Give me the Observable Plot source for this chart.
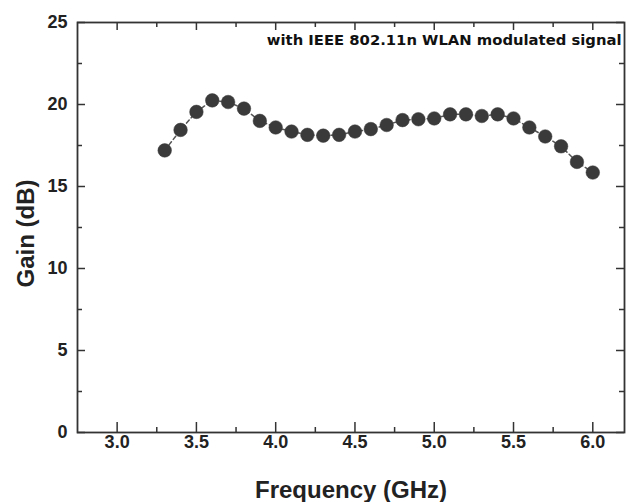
<!DOCTYPE html>
<html>
<head>
<meta charset="utf-8">
<script src="https://cdn.jsdelivr.net/npm/d3@7"></script>
<script src="https://cdn.jsdelivr.net/npm/@observablehq/plot@0.6"></script>
<style>
  body { margin: 0; background: #fff; }
  svg { display: block; }
</style>
</head>
<body>
<div id="chart"></div>
<script>
const freq = [3.3, 3.4, 3.5, 3.6, 3.7, 3.8, 3.9, 4.0, 4.1, 4.2, 4.3, 4.4, 4.5, 4.6,
              4.7, 4.8, 4.9, 5.0, 5.1, 5.2, 5.3, 5.4, 5.5, 5.6, 5.7, 5.8, 5.9, 6.0];
const gain = [17.2, 18.45, 19.55, 20.25, 20.15, 19.75, 19.0, 18.6, 18.35, 18.15, 18.1, 18.15, 18.35, 18.5,
              18.75, 19.05, 19.1, 19.15, 19.4, 19.4, 19.3, 19.4, 19.15, 18.6, 18.05, 17.45, 16.5, 15.85];
const xMajor = [3.0, 3.5, 4.0, 4.5, 5.0, 5.5, 6.0];
const xMinor = [3.25, 3.75, 4.25, 4.75, 5.25, 5.75];
const yMajor = [0, 5, 10, 15, 20, 25];
const yMinor = [2.5, 7.5, 12.5, 17.5, 22.5];
const xLabel = "Frequency (GHz)";
const yLabel = "Gain (dB)";
const note = "with IEEE 802.11n WLAN modulated signal";

const data = freq.map((f, i) => ({f, g: gain[i]}));
const ink = "#333";

const W = 630, H = 502, mL = 77, mR = 6, mT = 22, mB = 70;
const plotW = W - mL - mR, plotH = H - mT - mB;
const tickStyle = {stroke: ink, strokeWidth: 1.5};

const chart = Plot.plot({
  width: W,
  height: H,
  marginLeft: mL,
  marginRight: mR,
  marginTop: mT,
  marginBottom: mB,
  style: {fontFamily: "'Liberation Sans', Arial, sans-serif", fontWeight: "bold", fontSize: "18px", color: "#222", background: "#fff"},
  x: {domain: [2.75, 6.2]},
  y: {domain: [0, 25]},
  marks: [
    Plot.axisX(xMajor, {anchor: "bottom", tickSize: 0, tickPadding: 3, tickFormat: d => d.toFixed(1), fontSize: 18, label: null}),
    Plot.axisY(yMajor, {anchor: "left", tickSize: 0, tickPadding: 10, fontSize: 18, label: null}),
    // inward ticks on all four sides
    Plot.ruleX(xMajor, {...tickStyle, insetTop: plotH - 10}),
    Plot.ruleX(xMinor, {...tickStyle, insetTop: plotH - 5}),
    Plot.ruleX(xMajor, {...tickStyle, insetBottom: plotH - 8}),
    Plot.ruleX(xMinor, {...tickStyle, insetBottom: plotH - 5}),
    Plot.ruleY(yMajor, {...tickStyle, insetRight: plotW - 8}),
    Plot.ruleY(yMinor, {...tickStyle, insetRight: plotW - 5}),
    Plot.ruleY(yMajor, {...tickStyle, insetLeft: plotW - 8}),
    Plot.ruleY(yMinor, {...tickStyle, insetLeft: plotW - 5}),
    Plot.frame({stroke: ink, strokeWidth: 1.8}),
    Plot.line(data, {x: "f", y: "g", stroke: "#555", strokeWidth: 1.5, strokeDasharray: "4,3"}),
    Plot.dot(data, {x: "f", y: "g", r: 6.8, fill: "#3a3a3a", stroke: "#3a3a3a", strokeWidth: 0.5}),
    Plot.text([note], {frameAnchor: "top-right", dx: -3, dy: 12, textAnchor: "end", lineAnchor: "top",
      fontFamily: "'DejaVu Sans', Verdana, sans-serif", fontWeight: "bold", fontSize: 14.8, fill: "#111"}),
    Plot.text([xLabel], {frameAnchor: "bottom", dy: 58, textAnchor: "middle", lineAnchor: "middle", fontSize: 24, fill: "#222"}),
    Plot.text([yLabel], {frameAnchor: "left", dx: -51, dy: 6, rotate: -90, textAnchor: "middle", lineAnchor: "middle", fontSize: 24, fill: "#222"})
  ]
});
document.getElementById("chart").appendChild(chart);
</script>
</body>
</html>
